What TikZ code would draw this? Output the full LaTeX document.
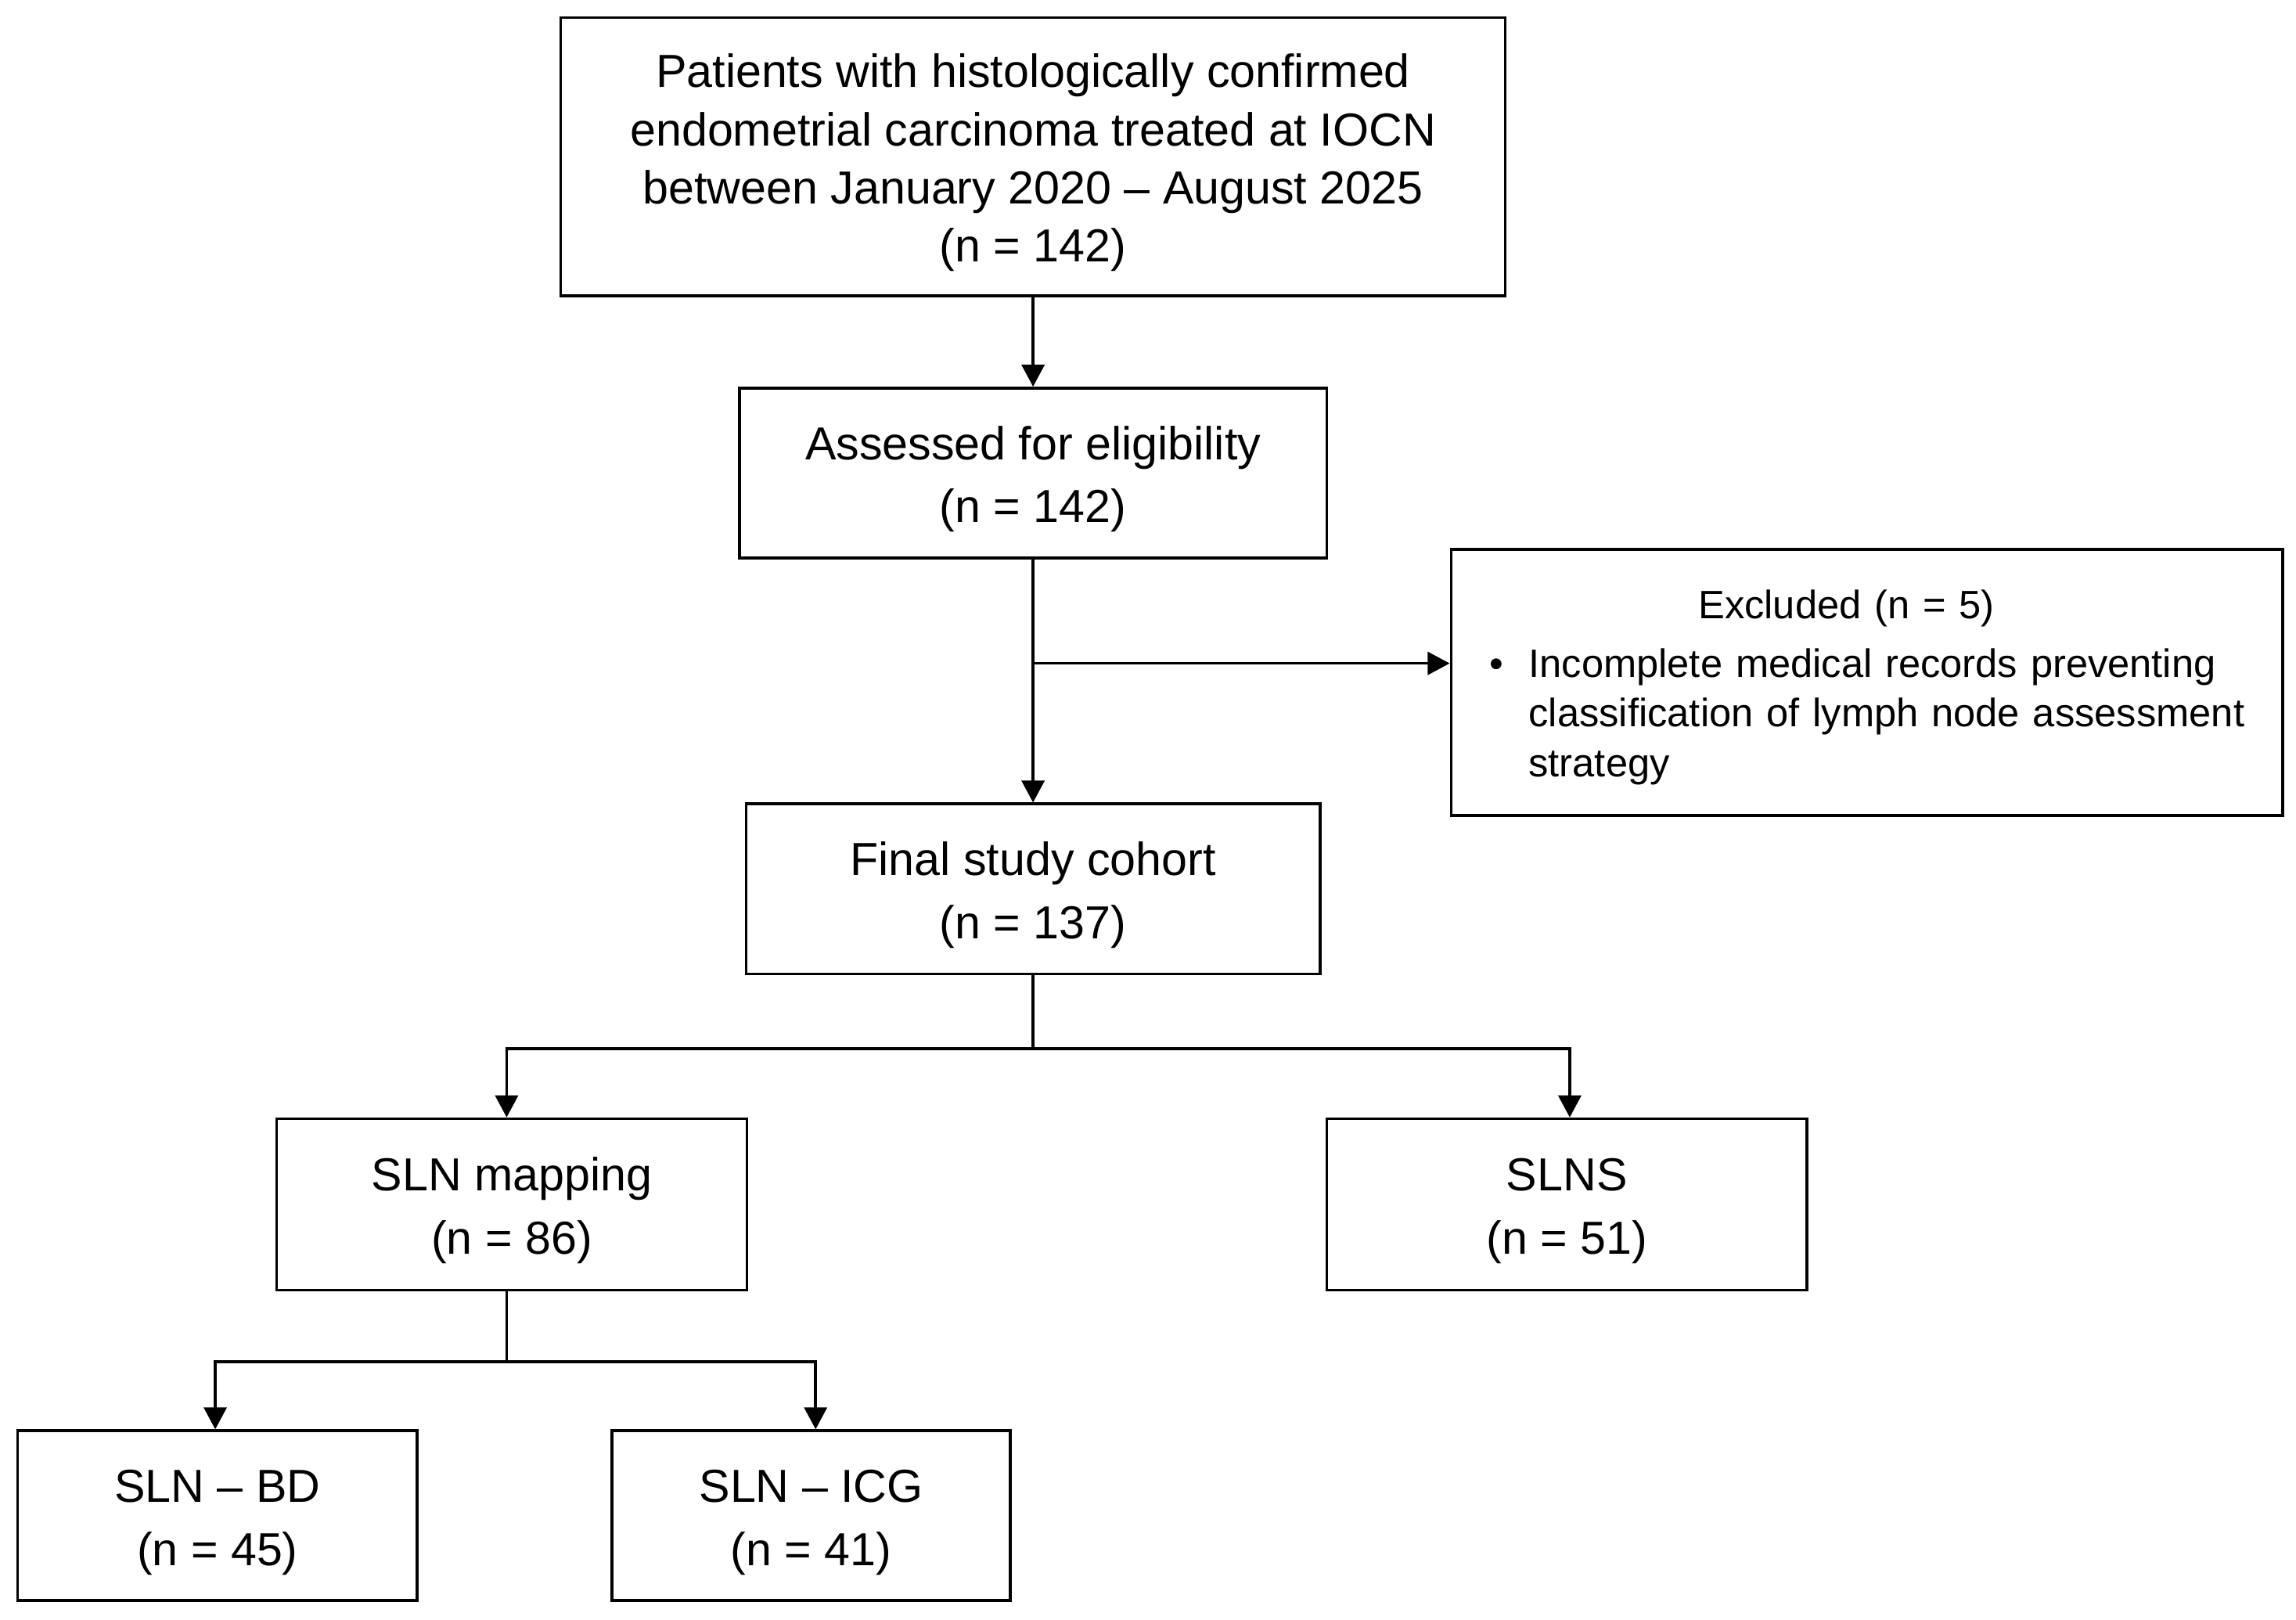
\documentclass[tikz,border=0pt]{standalone}
\usepackage{fontspec}
\setmainfont{Liberation Sans}
\usetikzlibrary{positioning, arrows.meta, calc}

\begin{document}
\begin{tikzpicture}[
    box/.style={draw, line width=1.1pt, align=center, inner sep=0pt, font=\fontsize{18}{24.5}\selectfont},
    exbox/.style={draw, line width=1.1pt, inner sep=0pt, minimum width=11.36cm, minimum height=3.64cm, text width=10.32cm, align=left, font=\fontsize{15.4}{19.4}\selectfont},
    arr/.style={-{Triangle[length=3mm, width=3.1mm]}, line width=1.1pt},
    ln/.style={line width=1.1pt}
]
\useasboundingbox (0,0) rectangle (31.36,-22.12);

\node[box, minimum width=12.9cm, minimum height=3.8cm, font=\fontsize{18}{22.6}\selectfont] (pat) at (14.11,-2.14) {\rule{0pt}{17.8pt}Patients with histologically confirmed\\endometrial carcinoma treated at IOCN\\between January 2020 – August 2025\\(n = 142)};
\node[box, minimum width=8.02cm, minimum height=2.32cm] (assess) at (14.11,-6.46) {\rule{0pt}{17.8pt}Assessed for eligibility\\(n = 142)};
\node[exbox] (excl) at (25.5,-9.32) {\rule{0pt}{15pt}\hfill Excluded (n = 5)\hfill\hspace*{0.56cm}\par\vspace{0.12cm}
  \noindent\makebox[0.54cm][l]{\textbullet}\parbox[t]{9.78cm}{\hbox{Incomplete medical records preventing}\hbox{classification of lymph node assessment}\hbox{strategy}}};
\node[box, minimum width=7.84cm, minimum height=2.32cm] (final) at (14.11,-12.14) {\rule{0pt}{17.8pt}Final study cohort\\(n = 137)};
\node[box, minimum width=6.42cm, minimum height=2.34cm] (map) at (6.99,-16.45) {\rule{0pt}{17.8pt}SLN mapping\\(n = 86)};
\node[box, minimum width=6.56cm, minimum height=2.34cm] (slns) at (21.4,-16.45) {\rule{0pt}{17.8pt}SLNS\\(n = 51)};
\node[box, minimum width=5.46cm, minimum height=2.32cm] (bd) at (2.97,-20.7) {\rule{0pt}{17.8pt}SLN – BD\\(n = 45)};
\node[box, minimum width=5.44cm, minimum height=2.32cm] (icg) at (11.08,-20.7) {\rule{0pt}{17.8pt}SLN – ICG\\(n = 41)};

\draw[arr] (pat) -- (assess);
\draw[arr] (assess) -- (final);
\coordinate (exbr) at (assess.south |- 0,-9.06);
\draw[arr] (exbr) -- (exbr -| excl.west);

\coordinate (sp1) at (final.south |- 0,-14.32);
\draw[ln] (final) -- (sp1);
\draw[arr] (sp1) -| ([xshift=-0.07cm]map.north);
\draw[arr] (sp1) -| ([xshift=0.04cm]slns.north);

\coordinate (sp2) at (6.92,-18.6);
\draw[ln] (map.south -| sp2) -- (sp2);
\draw[arr] (sp2) -| ([xshift=-0.03cm]bd.north);
\draw[arr] (sp2) -| ([xshift=0.06cm]icg.north);

\end{tikzpicture}
\end{document}
